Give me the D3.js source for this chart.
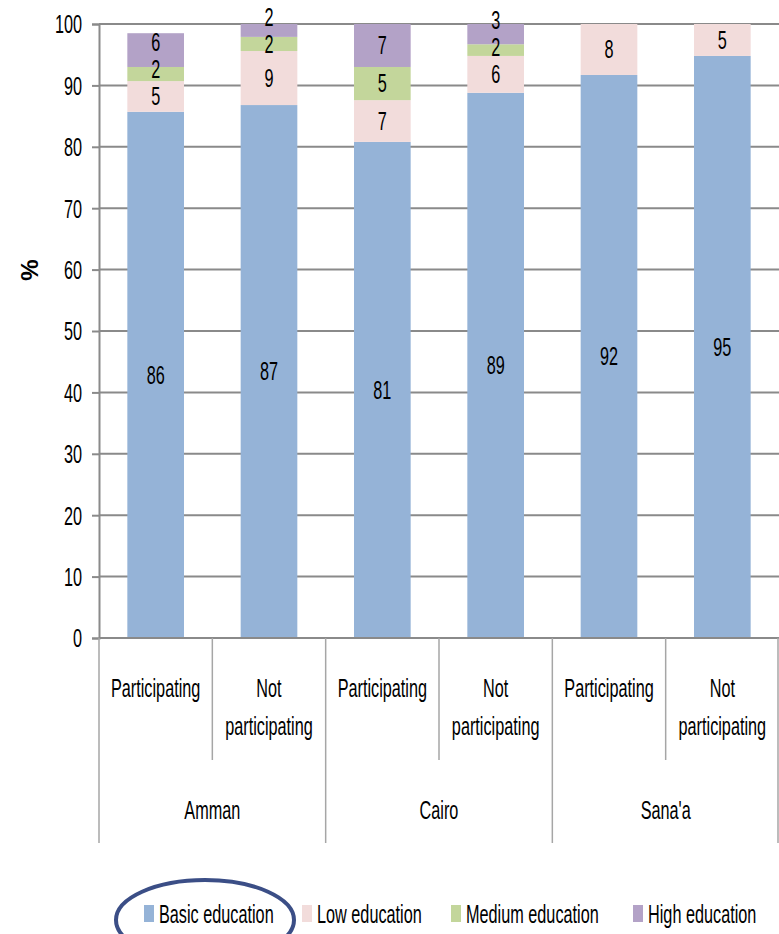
<!DOCTYPE html>
<html><head><meta charset="utf-8">
<script src="https://cdn.jsdelivr.net/npm/d3@7"></script>
<style>
body{margin:0;background:#fff;}
svg{display:block;}
text{font-family:"Liberation Sans",Arial,sans-serif;fill:#000;}
</style></head>
<body>
<svg id="chart" width="779" height="934"></svg>
<script>
const cities = ["Amman","Cairo","Sana'a"];
const groups = ["Participating","Not participating"];
const series = ["Basic education","Low education","Medium education","High education"];
const colors = ["#95b3d7","#f2dcdb","#c3d69b","#b3a2c7"];
const basic  = [85.7, 86.8, 80.8, 88.8, 91.7, 94.8];
const low    = [5.0, 8.8, 6.8, 6.0, 8.3, 5.2];
const medium = [2.3, 2.3, 5.4, 1.9, 0, 0];
const high   = [5.5, 2.1, 7.0, 3.3, 0, 0];
const labelsBasic  = ["86","87","81","89","92","95"];
const labelsLow    = ["5","9","7","6","8","5"];
const labelsMedium = ["2","2","5","2","",""];
const labelsHigh   = ["6","2","7","3","",""];
const yTicks = [0,10,20,30,40,50,60,70,80,90,100];

(function(){
const svg = d3.select("#chart");
const mLeft = 99, mRight = 779, mTop = 24, mBottom = 638;
const FS = 25, SX = 0.65;
function txt(parent, x, y, s, anchor) {
  return parent.append("text")
    .attr("transform", `translate(${x},${y}) scale(${SX},1)`)
    .attr("text-anchor", anchor || "middle")
    .attr("dominant-baseline", "central")
    .attr("font-size", FS).text(s);
}
const cats = [];
cities.forEach(c => groups.forEach(g => cats.push(c + "|" + g)));
const x = d3.scaleBand().domain(cats).range([mLeft, mRight]).paddingInner(0.5).paddingOuter(0.25);
const y = d3.scaleLinear().domain([0,100]).range([mBottom, mTop]);
const step = x.step();

// gridlines
svg.append("g").selectAll("line").data(yTicks.filter(t => t > 0)).join("line")
  .attr("x1", mLeft).attr("x2", mRight).attr("y1", d => y(d)).attr("y2", d => y(d))
  .attr("stroke", "#8a8a8a").attr("stroke-width", 2);

// y axis
const yAxis = d3.axisLeft(y).tickValues(yTicks).tickSize(7).tickFormat(d3.format("d"));
const ya = svg.append("g").attr("transform", `translate(${mLeft},0)`).call(yAxis);
ya.select(".domain").attr("stroke", "#8a8a8a").attr("stroke-width", 2);
ya.selectAll(".tick line").attr("stroke", "#8a8a8a").attr("stroke-width", 2);
ya.selectAll(".tick text")
  .attr("x", null).attr("dy", null)
  .attr("dominant-baseline", "central")
  .attr("transform", `translate(-17,0) scale(${SX},1)`)
  .attr("font-size", FS)
  .attr("font-family", '"Liberation Sans",Arial,sans-serif')
  .attr("fill", "#000");

// stacked data
const stackData = cats.map((c, i) => ({cat: c, b: basic[i], l: low[i], m: medium[i], h: high[i]}));
const stack = d3.stack().keys(["b","l","m","h"])(stackData);
const labelArr = [labelsBasic, labelsLow, labelsMedium, labelsHigh];

stack.forEach((layer, si) => {
  svg.append("g").selectAll("rect").data(layer).join("rect")
    .attr("x", d => x(d.data.cat))
    .attr("width", x.bandwidth())
    .attr("y", d => y(d[1]))
    .attr("height", d => Math.max(0, y(d[0]) - y(d[1])))
    .attr("fill", colors[si]);
});

// labels with simple overlap avoidance
const minGap = 27;
const lblG = svg.append("g");
cats.forEach((c, i) => {
  let prevY = null;
  stack.forEach((layer, si) => {
    const d = layer[i];
    const t = labelArr[si][i];
    if (!t) return;
    let cy = y((d[0] + d[1]) / 2);
    if (prevY !== null && prevY - cy < minGap) cy = prevY - minGap;
    prevY = cy;
    txt(lblG, x(c) + x.bandwidth() / 2, cy, t);
  });
});

// x axis line
svg.append("line").attr("x1", mLeft).attr("x2", mRight).attr("y1", mBottom).attr("y2", mBottom)
  .attr("stroke", "#8a8a8a").attr("stroke-width", 2);

// category table separators
const sepG = svg.append("g").attr("stroke", "#a6a6a6").attr("stroke-width", 1.5);
for (let k = 0; k <= cats.length; k++) {
  const xx = Math.min(mLeft + k * step, mRight - 1);
  const isGroup = (k % groups.length === 0);
  sepG.append("line").attr("x1", xx).attr("x2", xx)
    .attr("y1", mBottom).attr("y2", isGroup ? 843 : 760);
}

// sub labels
const catG = svg.append("g");
cats.forEach((c, i) => {
  const g = c.split("|")[1];
  const cx = x(c) + x.bandwidth() / 2;
  const words = g === "Not participating" ? ["Not", "participating"] : [g];
  words.forEach((w, j) => txt(catG, cx, 688 + j * 38, w));
});
// city labels
cities.forEach((city, ci) => {
  const cx = mLeft + step * groups.length * (ci + 0.5);
  txt(catG, cx, 810, city);
});

// y axis title
svg.append("text").attr("transform", "translate(29,270) rotate(-90)")
  .attr("text-anchor", "middle").attr("dominant-baseline", "central")
  .attr("font-size", 24).attr("font-weight", "bold").text("%");

// legend
const legendX = [144, 302, 451, 633];
const lg = svg.append("g");
series.forEach((s, i) => {
  lg.append("rect").attr("x", legendX[i]).attr("y", 905).attr("width", 10).attr("height", 17).attr("fill", colors[i]);
  txt(lg, legendX[i] + 15, 914, s, "start");
});

// highlight ellipse
svg.append("ellipse").attr("cx", 205).attr("cy", 920).attr("rx", 89).attr("ry", 40)
  .attr("fill", "none").attr("stroke", "#3b4e86").attr("stroke-width", 4);
})();
</script>
</body></html>
